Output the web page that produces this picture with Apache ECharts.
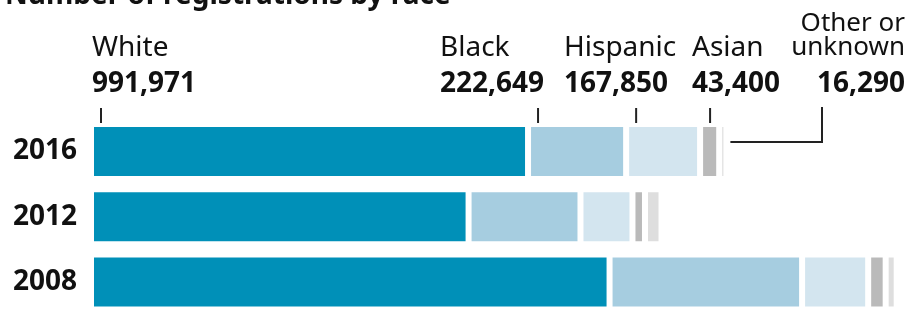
<!DOCTYPE html>
<html>
<head>
<meta charset="utf-8">
<script src="https://cdn.jsdelivr.net/npm/echarts@6/dist/echarts.min.js"></script>
<style>
  html, body { margin: 0; padding: 0; background: #fff; }
  #chart { width: 914px; height: 310px; }
</style>
</head>
<body>
<div id="chart"></div>
<script>
// data (2016 values are printed on it, the rest estimated)
var years = ['2016', '2012', '2008'];
var races = ['White', 'Black', 'Hispanic', 'Asian', 'Other or unknown'];
var white = [991971, 857000, 1177000];
var black = [222649, 254000, 437000];
var hispanic = [167850, 118000, 150000];
var asian = [43400, 28400, 39700];
var other = [16290, 37500, 25000];

var colors = ['#0090b8', '#a6cde0', '#d3e5ef', '#bababa', '#dedede'];
var values = [white, black, hispanic, asian, other];

var FONT = 'Noto Sans';

var chart = echarts.init(document.getElementById('chart'));

var option = {
    animation: false,
    // categories sit on the ticks (boundaryGap false): first at top edge, last at bottom edge
    grid: { left: 91, right: 0, top: 151.5, height: 130.5 },
    xAxis: {
        type: 'value',
        min: 0,
        max: 1868000,
        show: false
    },
    yAxis: {
        type: 'category',
        data: years,
        inverse: true,
        boundaryGap: false,
        axisLine: { show: false },
        axisTick: { show: false },
        splitLine: { show: false },
        axisLabel: {
            margin: 14,
            fontFamily: FONT,
            fontWeight: 'bold',
            fontSize: 28,
            color: '#111'
        }
    },
    series: races.map(function (r, i) {
        return {
            name: r,
            type: 'bar',
            stack: 'total',
            barWidth: 55,
            clip: false,
            itemStyle: { color: colors[i], borderColor: '#fff', borderWidth: 3 },
            data: values[i]
        };
    })
};
chart.setOption(option);

// annotations above the 2016 bar
var graphics = [];
graphics.push({
    type: 'text', x: 5, y: -4,
    style: { text: 'Number of registrations by race', font: 'bold 28px "Noto Sans"', fill: '#111', verticalAlign: 'middle' }
});

// label layout (x positions of the label blocks)
var labelX = [92, 440, 564, 692];
for (var i = 0; i < 4; i++) {
    graphics.push({
        type: 'text', x: labelX[i], y: 48,
        style: { text: races[i], font: '28px "Noto Sans"', fill: '#111', verticalAlign: 'middle' }
    });
    graphics.push({
        type: 'text', x: labelX[i], y: 84,
        style: { text: values[i][0].toLocaleString('en-US'), font: 'bold 28px "Noto Sans"', fill: '#111', verticalAlign: 'middle' }
    });
}
graphics.push({
    type: 'text', x: 905, y: 24,
    style: { text: 'Other or', font: '26px "Noto Sans"', fill: '#111', align: 'right', verticalAlign: 'middle' }
});
graphics.push({
    type: 'text', x: 905, y: 48,
    style: { text: 'unknown', font: '26px "Noto Sans"', fill: '#111', align: 'right', verticalAlign: 'middle' }
});
graphics.push({
    type: 'text', x: 905, y: 84,
    style: { text: other[0].toLocaleString('en-US'), font: 'bold 28px "Noto Sans"', fill: '#111', align: 'right', verticalAlign: 'middle' }
});

// ticks at the start of each 2016 segment
var start = 0;
for (var k = 0; k < 4; k++) {
    var px = chart.convertToPixel({ xAxisIndex: 0 }, start) + 10;
    graphics.push({
        type: 'line',
        shape: { x1: px, y1: 108, x2: px, y2: 123 },
        style: { stroke: '#222', lineWidth: 2 }
    });
    start += values[k][0];
}
var endPx = chart.convertToPixel({ xAxisIndex: 0 }, start + other[0]) + 4;
graphics.push({
    type: 'polyline',
    shape: { points: [[endPx, 142], [822, 142], [822, 107]] },
    style: { stroke: '#222', lineWidth: 2, fill: null }
});

chart.setOption({ graphic: graphics });
</script>
</body>
</html>
